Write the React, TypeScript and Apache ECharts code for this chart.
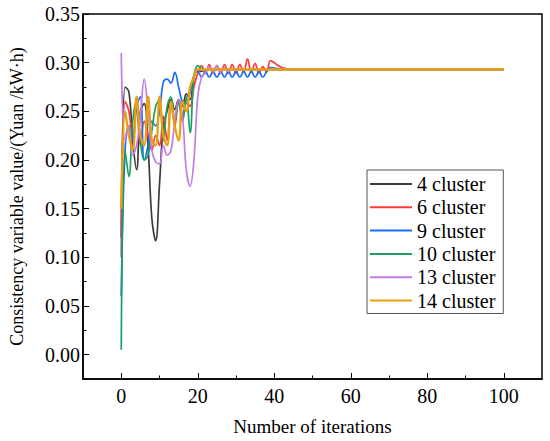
import React, { useEffect, useRef } from "react";
import * as echarts from "echarts";

const seriesNames = ["4 cluster", "6 cluster", "9 cluster", "10 cluster", "13 cluster", "14 cluster"];
const seriesColors = ["#3c3c3c", "#ff3a3a", "#1a6ef5", "#1aa060", "#c57de6", "#e8a010"];

// values at iterations 0, 1, 2, ...
const cluster4 = [0.12, 0.275, 0.27, 0.22, 0.19, 0.25, 0.258, 0.215, 0.14, 0.117, 0.175, 0.235, 0.25, 0.262, 0.252, 0.262, 0.255, 0.268, 0.262, 0.285, 0.292, 0.291, 0.293];
const cluster6 = [0.10, 0.26, 0.25, 0.22, 0.255, 0.215, 0.24, 0.225, 0.21, 0.225, 0.215, 0.245, 0.22, 0.26, 0.235, 0.26, 0.24, 0.262, 0.255, 0.275, 0.289, 0.297, 0.289, 0.298, 0.289, 0.297, 0.289, 0.298, 0.289, 0.298, 0.289, 0.298, 0.29, 0.304, 0.29, 0.299, 0.289, 0.296, 0.29, 0.302, 0.3, 0.297, 0.295, 0.294, 0.2935, 0.293];
const cluster9 = [0.06, 0.21, 0.235, 0.22, 0.255, 0.265, 0.2, 0.215, 0.24, 0.235, 0.25, 0.28, 0.283, 0.279, 0.29, 0.275, 0.26, 0.258, 0.27, 0.287, 0.291, 0.285, 0.291, 0.285, 0.291, 0.285, 0.291, 0.285, 0.291, 0.285, 0.291, 0.285, 0.291, 0.285, 0.291, 0.285, 0.291, 0.285, 0.291, 0.295, 0.2945, 0.294, 0.2935, 0.293];
const cluster10 = [0.005, 0.21, 0.183, 0.24, 0.26, 0.22, 0.2, 0.205, 0.23, 0.255, 0.262, 0.22, 0.255, 0.265, 0.24, 0.26, 0.24, 0.265, 0.228, 0.285, 0.297, 0.294, 0.292, 0.293];
const cluster13 = [0.31, 0.22, 0.235, 0.205, 0.215, 0.245, 0.283, 0.25, 0.21, 0.198, 0.196, 0.215, 0.205, 0.21, 0.24, 0.262, 0.245, 0.19, 0.173, 0.2, 0.265, 0.285, 0.29, 0.296, 0.29, 0.297, 0.29, 0.295, 0.291, 0.293, 0.292, 0.293];
const cluster14 = [0.15, 0.25, 0.225, 0.21, 0.265, 0.225, 0.215, 0.265, 0.22, 0.215, 0.265, 0.225, 0.215, 0.26, 0.235, 0.22, 0.26, 0.25, 0.275, 0.285, 0.293];

const LAST_ITER = 100;
const FINAL_VALUE = 0.293;

const xLabelValues = [0, 20, 40, 60, 80, 100];
const xMinorValues = [10, 30, 50, 70, 90];
const yLabelValues = [0, 0.05, 0.1, 0.15, 0.2, 0.25, 0.3, 0.35];
const yMinorValues = [-0.025, 0.025, 0.075, 0.125, 0.175, 0.225, 0.275, 0.325];

const allSeries = [cluster4, cluster6, cluster9, cluster10, cluster13, cluster14];

const FONT = "'Liberation Serif', 'Times New Roman', serif";

export default function App() {
  const ref = useRef<HTMLDivElement>(null);
  useEffect(() => {
    document.body.style.margin = "0";
    const chart = echarts.init(ref.current!, null, { renderer: "svg" });
    const axisCommon = {
      type: "value",
      splitLine: { show: false },
    };
    chart.setOption({
      animation: false,
      grid: {
        left: 83,
        right: 8,
        top: 14,
        bottom: 61,
        show: true,
        borderColor: "#000",
        borderWidth: 1.5,
      },
      legend: {
        orient: "vertical",
        left: 367,
        top: 170,
        padding: [4, 8, 3, 3],
        itemGap: 3.3,
        itemWidth: 42,
        itemHeight: 2,
        icon: "rect",
        borderColor: "#555",
        borderWidth: 1,
        data: seriesNames,
        textStyle: { fontFamily: FONT, fontSize: 20, color: "#000" },
      },
      xAxis: [
        {
          ...axisCommon,
          min: -10,
          max: 110,
          name: "Number of iterations",
          nameLocation: "middle",
          nameGap: 38,
          nameTextStyle: { fontFamily: FONT, fontSize: 19, color: "#000" },
          axisLine: { onZero: false, lineStyle: { color: "#000", width: 1.5 } },
          axisTick: { inside: true, length: 6, customValues: xLabelValues, lineStyle: { color: "#000", width: 1 } },
          axisLabel: { customValues: xLabelValues, fontFamily: FONT, fontSize: 20, color: "#000", margin: 7 },
        },
        {
          ...axisCommon,
          min: -10,
          max: 110,
          position: "bottom",
          axisLine: { show: false, onZero: false },
          axisTick: { inside: true, length: 3.5, customValues: xMinorValues, lineStyle: { color: "#000", width: 1 } },
          axisLabel: { show: false },
        },
      ],
      yAxis: [
        {
          ...axisCommon,
          min: -0.025,
          max: 0.35,
          name: "Consistency variable value/(Yuan /kW·h)",
          nameLocation: "middle",
          nameGap: 57,
          nameTextStyle: { fontFamily: FONT, fontSize: 18, color: "#000" },
          axisLine: { onZero: false, lineStyle: { color: "#000", width: 1.5 } },
          axisTick: { inside: true, length: 6, customValues: yLabelValues, lineStyle: { color: "#000", width: 1 } },
          axisLabel: {
            customValues: yLabelValues,
            fontFamily: FONT,
            fontSize: 20,
            color: "#000",
            margin: 3,
            formatter: (v: number) => v.toFixed(2),
          },
        },
        {
          ...axisCommon,
          min: -0.025,
          max: 0.35,
          position: "left",
          offset: 0,
          axisLine: { show: false, onZero: false },
          axisTick: { inside: true, length: 3.5, customValues: yMinorValues, lineStyle: { color: "#000", width: 1 } },
          axisLabel: { show: false },
        },
      ],
      series: allSeries.map((vals, k) => ({
        name: seriesNames[k],
        type: "line",
        xAxisIndex: 0,
        yAxisIndex: 0,
        data: [...vals.map((v, i) => [i, v]), [LAST_ITER, FINAL_VALUE]],
        smooth: 0.4,
        showSymbol: false,
        symbol: "none",
        color: seriesColors[k],
        lineStyle: { color: seriesColors[k], width: k === 5 ? 2.3 : 1.7 },
      })),
    });
    return () => chart.dispose();
  }, []);
  return <div ref={ref} style={{ width: 550, height: 441 }} />;
}
